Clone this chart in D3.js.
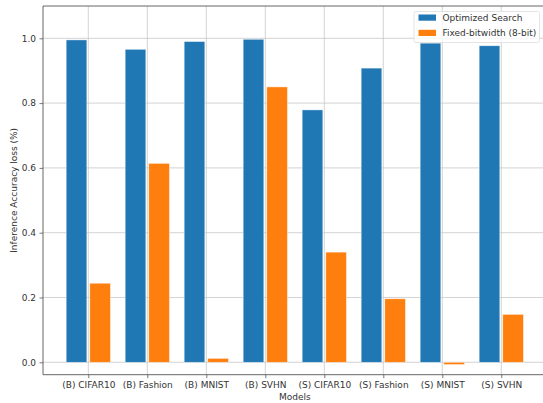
<!DOCTYPE html>
<html><head><meta charset="utf-8">
<script src="https://cdn.jsdelivr.net/npm/d3@7"></script>
<style>body{margin:0;background:#fff}svg{display:block}text{font-family:"DejaVu Sans",sans-serif}</style>
</head><body><svg id="c" width="543" height="403"></svg>
<script>
const categories = ["(B) CIFAR10","(B) Fashion","(B) MNIST","(B) SVHN","(S) CIFAR10","(S) Fashion","(S) MNIST","(S) SVHN"];
const optimized = [0.995,0.966,0.990,0.997,0.779,0.908,0.985,0.977];
const fixed8 = [0.244,0.614,0.012,0.850,0.340,0.196,-0.007,0.148];
const yTicks = [0.0,0.2,0.4,0.6,0.8,1.0];
const seriesNames = ["Optimized Search","Fixed-bitwidth (8-bit)"];
const colors = ["#1f77b4","#ff7f0e"];

const svg = d3.select("#c");
const L=43, R=546.6, T=6, B=374.7;
const x = d3.scaleLinear().domain([-0.768, categories.length-1+0.768]).range([L,R]);
const y = d3.scaleLinear().domain([-0.0383, 1.0997]).range([B,T]);
const bw = 0.35, off = 0.2;

// grid
const g = svg.append("g");
g.selectAll(".gy").data(yTicks).join("line")
  .attr("x1",L).attr("x2",R).attr("y1",d=>y(d)).attr("y2",d=>y(d))
  .attr("stroke","#c8c8c8").attr("stroke-width",0.8);
g.selectAll(".gx").data(categories).join("line")
  .attr("x1",(d,i)=>x(i)).attr("x2",(d,i)=>x(i)).attr("y1",T).attr("y2",B)
  .attr("stroke","#c8c8c8").attr("stroke-width",0.8);

// bars
const series=[optimized,fixed8];
series.forEach((s,k)=>{
  svg.append("g").selectAll("rect").data(s).join("rect")
    .attr("x",(d,i)=>x(i+(k===0?-off:off)-bw/2))
    .attr("width",x(bw)-x(0))
    .attr("y",d=>y(Math.max(0,d)))
    .attr("height",d=>Math.abs(y(d)-y(0)))
    .attr("fill",colors[k]).attr("stroke","#ffffff").attr("stroke-opacity",0.6).attr("stroke-width",0.7);
});

// axes
const xa = svg.append("g").attr("transform",`translate(0,${B})`)
  .call(d3.axisBottom(x).tickValues(d3.range(categories.length)).tickFormat(i=>categories[i]).tickSize(3.5).tickPadding(3.5));
const ya = svg.append("g").attr("transform",`translate(${L},0)`)
  .call(d3.axisLeft(y).tickValues(yTicks).tickFormat(d3.format(".1f")).tickSize(3.5).tickPadding(3.5));
[xa,ya].forEach(a=>{a.select(".domain").remove();a.selectAll("text").attr("font-size",9).attr("fill","#333").attr("font-family","DejaVu Sans");a.selectAll("line").attr("stroke","#555").attr("stroke-width",0.8);});

// spines
const sp = svg.append("g").attr("stroke","#555").attr("stroke-width",0.9);
sp.append("line").attr("x1",L).attr("x2",L).attr("y1",T).attr("y2",B);
sp.append("line").attr("x1",L).attr("x2",R).attr("y1",B).attr("y2",B);
sp.append("line").attr("x1",L).attr("x2",R).attr("y1",T).attr("y2",T);
sp.append("line").attr("x1",R).attr("x2",R).attr("y1",T).attr("y2",B);

// labels
svg.append("text").attr("x",(L+R)/2).attr("y",400).attr("text-anchor","middle").attr("font-size",9).attr("fill","#333").text("Models");
svg.append("text").attr("transform",`translate(17,${(T+B)/2}) rotate(-90)`).attr("text-anchor","middle").attr("font-size",9).attr("fill","#333").text("Inference Accuracy loss (%)");

// legend
const lg = svg.append("g");
lg.append("rect").attr("x",414).attr("y",11.5).attr("width",125.5).attr("height",31).attr("rx",2)
  .attr("fill","#fff").attr("fill-opacity",0.8).attr("stroke","#ddd").attr("stroke-width",0.8);
seriesNames.forEach((n,k)=>{
  lg.append("rect").attr("x",418.5).attr("y",14.5+k*15.3).attr("width",17.5).attr("height",6.2).attr("fill",colors[k]);
  lg.append("text").attr("x",442.5).attr("y",20.9+k*15.3).attr("font-size",9).attr("fill","#333").text(n);
});
</script></body></html>
